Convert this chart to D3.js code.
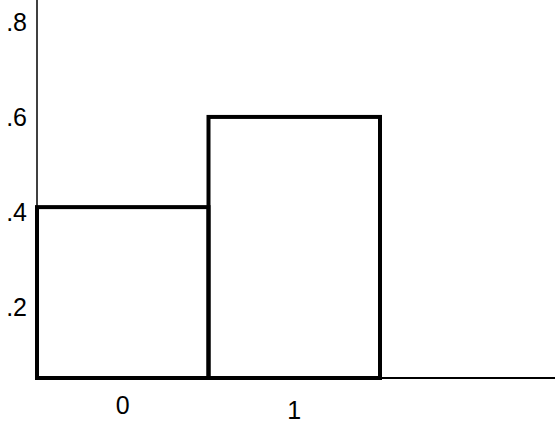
<!DOCTYPE html>
<html><head><meta charset="utf-8">
<script src="https://cdn.jsdelivr.net/npm/d3@7"></script>
<style>body{margin:0;background:#fff}</style></head>
<body><svg id="c" width="555" height="427"></svg>
<script>
const categories = ["0", "1"];
const values = [0.41, 0.6];
const yTicks = [0.2, 0.4, 0.6, 0.8];
const yTickLabels = [".2", ".4", ".6", ".8"];

const svg = d3.select("#c");
const y = d3.scaleLinear().domain([0.05, 0.8]).range([378, 22]);
const x = d3.scaleBand().domain(categories).range([37, 380]).padding(0);

svg.selectAll("rect").data(values).join("rect")
  .attr("x", (d, i) => x(categories[i]))
  .attr("y", d => y(d))
  .attr("width", x.bandwidth())
  .attr("height", d => y(0.05) - y(d))
  .attr("fill", "none").attr("stroke", "#000").attr("stroke-width", 4);

svg.append("line").attr("x1", 37).attr("x2", 37).attr("y1", 0).attr("y2", 378)
  .attr("stroke", "#000").attr("stroke-width", 1.5);
svg.append("line").attr("x1", 37).attr("x2", 555).attr("y1", y(0.05)).attr("y2", y(0.05))
  .attr("stroke", "#000").attr("stroke-width", 2);

svg.selectAll("text.yt").data(yTicks).join("text").attr("class", "yt")
  .attr("x", 27).attr("y", d => y(d)).attr("dy", "0.35em")
  .attr("text-anchor", "end")
  .attr("font-family", "Liberation Sans, Arial, sans-serif").attr("font-size", 25)
  .text((d, i) => yTickLabels[i]);

svg.selectAll("text.xt").data(categories).join("text").attr("class", "xt")
  .attr("x", d => x(d) + x.bandwidth() / 2)
  .attr("y", (d, i) => i === 0 ? 414 : 419)
  .attr("text-anchor", "middle")
  .attr("font-family", "Liberation Sans, Arial, sans-serif").attr("font-size", 25)
  .text(d => d);
</script></body></html>
